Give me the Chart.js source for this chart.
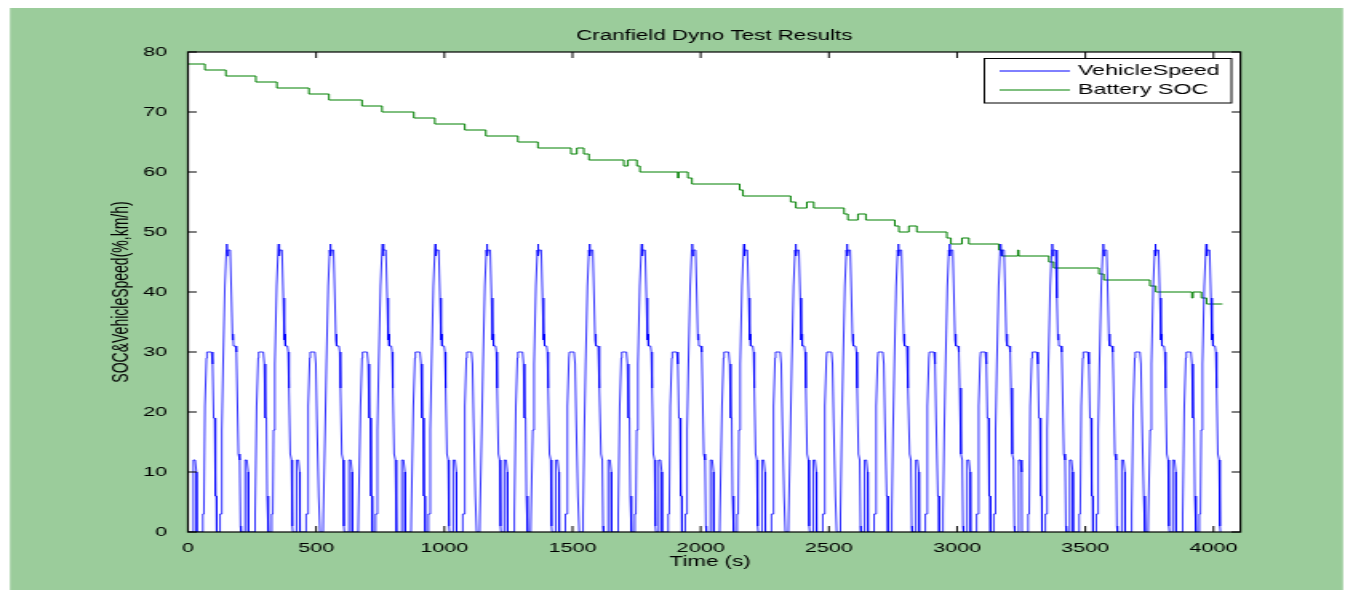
<!DOCTYPE html>
<html>
<head>
<meta charset="utf-8">
<title>Cranfield Dyno Test Results</title>
<script src="https://cdn.jsdelivr.net/npm/chart.js@4.4.1/dist/chart.umd.min.js"></script>
<style>
    html, body { margin: 0; padding: 0; background: #ffffff; overflow: hidden; }
    #dyno-chart { display: block; }
</style>
</head>
<body>
<!-- the original figure is stretched sideways, so the canvas is drawn narrow and widened by CSS -->
<canvas id="dyno-chart" width="846" height="592" style="width:1353px;height:592px"></canvas>
<script>
// Axis ticks
const xTicks = [0, 500, 1000, 1500, 2000, 2500, 3000, 3500, 4000];
const yTicks = [0, 10, 20, 30, 40, 50, 60, 70, 80];

// Start time (s) of each repeat of the drive cycle
const cycleStarts = [0, 202, 403, 607, 813, 1014, 1213, 1414, 1618, 1815,
    2017, 2218, 2418, 2618, 2818, 3018, 3219, 3418, 3621, 3820];

// One drive cycle: time inside the cycle (s) and speed (km/h)
const cycleTimes = [21, 21, 28, 33, 34,
    57, 58, 62, 66, 72, 74, 92, 96, 100, 104, 107, 111, 112,
    124, 125, 129, 132, 137, 144, 150, 152, 154, 157, 165, 170, 174, 176, 178, 186, 189, 192, 197, 202, 205, 207];
const cycleSpeeds = [0, 12, 12, 10, 0,
    0, 3, 3, 21, 29, 30, 30, 28, 19, 19, 6, 6, 0,
    0, 3, 3, 17, 28, 41, 47, 48, 46, 47, 47, 39, 32, 33, 31, 31, 30, 24, 13, 12, 1, 0];

// Battery SOC: time (s) where the value changes, and the new value (%)
const socTimes = [0, 66, 148, 265, 347, 472, 550, 679, 757, 881, 963, 1080, 1162, 1287, 1365,
    1494, 1517, 1544, 1564, 1700, 1716, 1751, 1763, 1911, 1914, 1950, 1966, 2152, 2165,
    2351, 2371, 2414, 2441, 2559, 2574, 2613, 2644, 2757, 2773, 2812, 2843, 2960, 2976,
    3019, 3046, 3163, 3175, 3237, 3240, 3358, 3377, 3553, 3572, 3752, 3775, 3916, 3920,
    3953, 3973, 4035];
const socValues = [78, 77, 76, 75, 74, 73, 72, 71, 70, 69, 68, 67, 66, 65, 64,
    63, 64, 63, 62, 61, 62, 61, 60, 59, 60, 59, 58, 57, 56,
    55, 54, 55, 54, 53, 52, 53, 52, 51, 50, 51, 50, 49, 48,
    49, 48, 47, 46, 47, 46, 45, 44, 43, 42, 41, 40, 39, 40,
    39, 38, 38];

// Build the point lists the library needs
const speedPoints = [{ x: 0, y: 0 }];
cycleStarts.forEach(start => {
    cycleTimes.forEach((t, i) => {
        speedPoints.push({ x: start + t, y: cycleSpeeds[i] });
    });
});
const socPoints = socTimes.map((t, i) => ({ x: t, y: socValues[i] }));

const FONT = '"Liberation Sans", Arial, Helvetica, sans-serif';

// Background, axes box, inward ticks, title, labels and legend (MATLAB style)
const figureFrame = {
    id: 'figureFrame',
    beforeDraw(chart) {
        const { ctx, chartArea: a } = chart;
        ctx.save();
        ctx.fillStyle = '#ffffff';
        ctx.fillRect(0, 0, chart.width, chart.height);
        ctx.fillStyle = '#9bcc9b';
        ctx.fillRect(6.25, 8, 833.5, 582);
        ctx.fillStyle = '#ffffff';
        ctx.fillRect(a.left, a.top, a.right - a.left, a.bottom - a.top);
        ctx.restore();
    },
    afterDatasetsDraw(chart) {
        const { ctx, chartArea: a, scales } = chart;
        ctx.save();
        ctx.strokeStyle = '#000000';
        ctx.lineWidth = 1;
        ctx.beginPath();
        xTicks.forEach(v => {
            const px = scales.x.getPixelForValue(v);
            ctx.moveTo(px, a.bottom);
            ctx.lineTo(px, a.bottom - 6);
            ctx.moveTo(px, a.top);
            ctx.lineTo(px, a.top + 6);
        });
        yTicks.forEach(v => {
            const py = scales.y.getPixelForValue(v);
            ctx.moveTo(a.left, py);
            ctx.lineTo(a.left + 5.5, py);
            ctx.moveTo(a.right, py);
            ctx.lineTo(a.right - 5.5, py);
        });
        ctx.stroke();
        ctx.lineWidth = 1.2;
        ctx.strokeRect(a.left, a.top, a.right - a.left, a.bottom - a.top);
        ctx.restore();
    },
    afterDraw(chart) {
        const { ctx, chartArea: a } = chart;
        ctx.save();
        ctx.fillStyle = '#000000';
        ctx.textBaseline = 'middle';

        // Title
        ctx.font = `14px ${FONT}`;
        ctx.textAlign = 'center';
        ctx.fillText('Cranfield Dyno Test Results', (a.left + a.right) / 2, 36);

        // X axis title
        ctx.fillText('Time (s)', 444, 562);

        // Y axis title
        ctx.save();
        ctx.translate(76, 292);
        ctx.rotate(-Math.PI / 2);
        ctx.font = `14px ${FONT}`;
        ctx.fillText('SOC&VehicleSpeed(%,km/h)', 0, 0);
        ctx.restore();

        // Legend box
        const lx = 615.5, ly = 58.5, lw = 154.5, lh = 44.5;
        ctx.fillStyle = '#ffffff';
        ctx.fillRect(lx, ly, lw, lh);
        ctx.strokeStyle = '#000000';
        ctx.lineWidth = 1;
        ctx.strokeRect(lx, ly, lw, lh);
        chart.data.datasets.forEach((ds, i) => {
            const rowY = 71 + i * 19;
            ctx.strokeStyle = ds.borderColor;
            ctx.beginPath();
            ctx.moveTo(625, rowY);
            ctx.lineTo(669, rowY);
            ctx.stroke();
            ctx.fillStyle = '#000000';
            ctx.font = `14.5px ${FONT}`;
            ctx.textAlign = 'left';
            ctx.fillText(ds.label, 674, rowY);
        });
        ctx.restore();
    }
};

const canvas = document.querySelector('#dyno-chart');
new Chart(canvas, {
    type: 'line',
    data: {
        datasets: [
            {
                label: 'VehicleSpeed',
                data: speedPoints,
                borderColor: '#0000ff',
                borderWidth: 0.8,
                pointRadius: 0,
                tension: 0
            },
            {
                label: 'Battery SOC',
                data: socPoints,
                borderColor: '#008000',
                borderWidth: 1,
                pointRadius: 0,
                stepped: true
            }
        ]
    },
    options: {
        responsive: false,
        devicePixelRatio: 1,
        animation: false,
        events: [],
        layout: { padding: { left: 0, top: 52, right: 70.4, bottom: 0 } },
        plugins: {
            legend: { display: false },
            title: { display: false },
            tooltip: { enabled: false }
        },
        scales: {
            x: {
                type: 'linear',
                min: 0,
                max: 4105,
                grid: { display: false },
                border: { display: false },
                afterFit: scale => { scale.height = 60; },
                afterBuildTicks: scale => { scale.ticks = xTicks.map(v => ({ value: v })); },
                ticks: {
                    color: '#000000',
                    padding: 0,
                    maxRotation: 0,
                    callback: v => String(v),
                    font: { family: FONT, size: 13.5 }
                }
            },
            y: {
                type: 'linear',
                min: 0,
                max: 80,
                grid: { display: false },
                border: { display: false },
                afterFit: scale => { scale.width = 117.5; },
                afterBuildTicks: scale => { scale.ticks = yTicks.map(v => ({ value: v })); },
                ticks: {
                    color: '#000000',
                    padding: 5,
                    callback: v => String(v),
                    font: { family: FONT, size: 13.5 }
                }
            }
        }
    },
    plugins: [figureFrame]
});
// keep the sideways stretch even if the library set an inline size
canvas.style.width = '1353px';
canvas.style.height = '592px';
</script>
</body>
</html>
